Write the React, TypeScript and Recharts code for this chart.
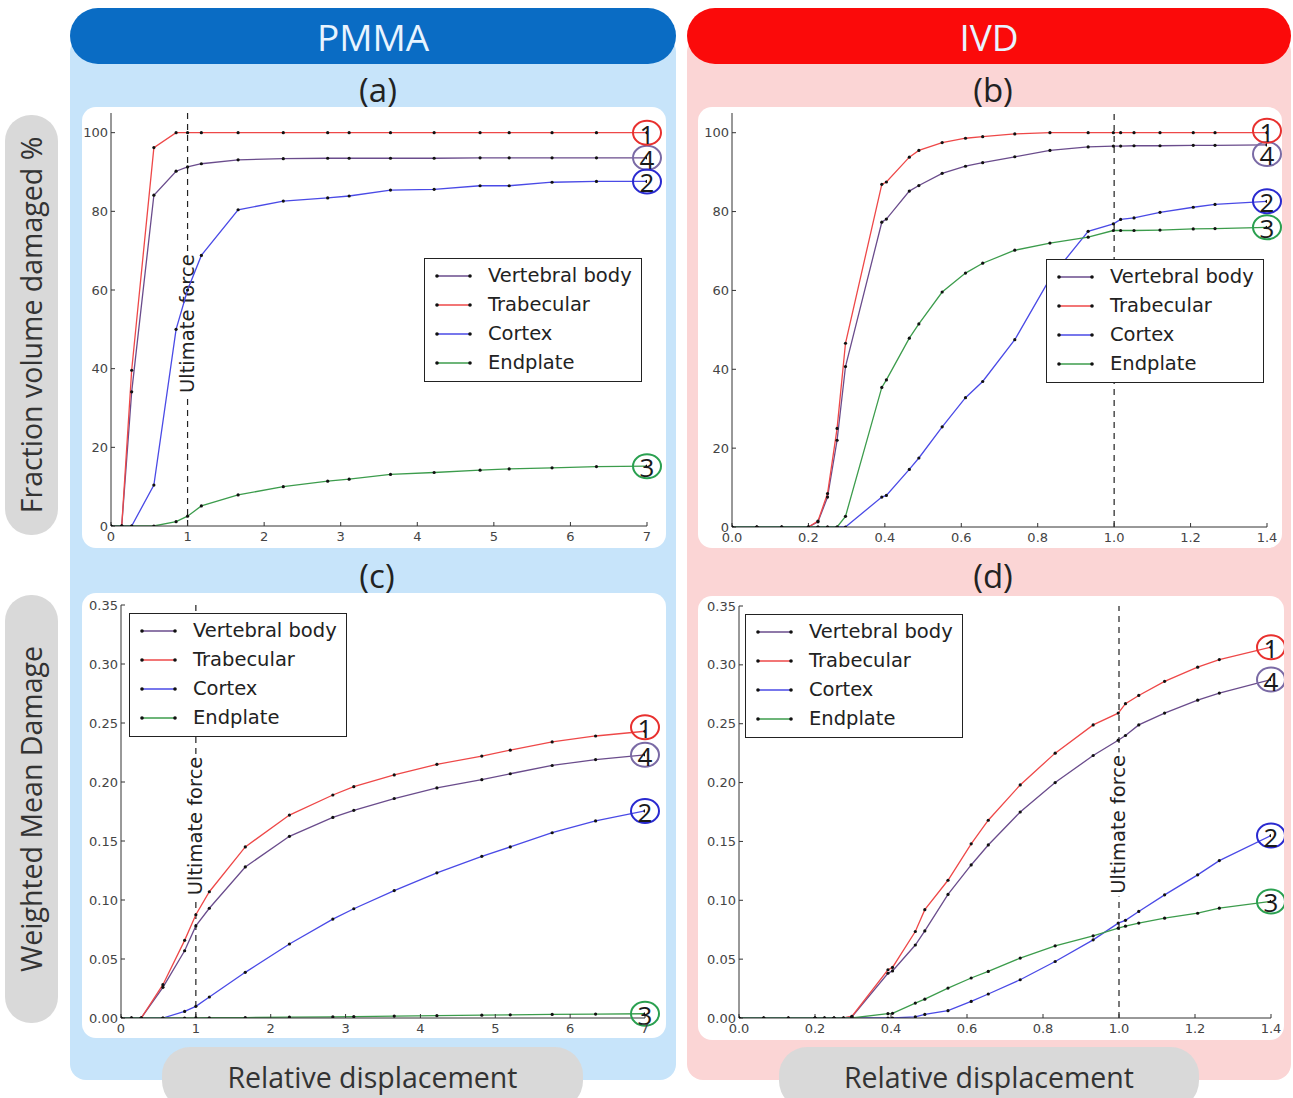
import React from 'react';
import { LineChart, Line, XAxis, YAxis, ReferenceLine, ReferenceDot, Legend } from 'recharts';

// relative displacement at each saved step
const pmmaDisp = [0, 0.14, 0.27, 0.56, 0.85, 1.0, 1.18, 1.66, 2.25, 2.83, 3.11, 3.65, 4.22, 4.82, 5.2, 5.76, 6.34, 7.0];
const ivdDisp = [0, 0.065, 0.13, 0.2, 0.225, 0.25, 0.275, 0.297, 0.392, 0.404, 0.464, 0.489, 0.55, 0.611, 0.656, 0.74, 0.832, 0.932, 0.998, 1.017, 1.052, 1.12, 1.207, 1.264, 1.4];

// (a) PMMA - fraction volume damaged %
const pmmaVolBody = [0, 0, 34.1, 84.1, 90.2, 91.3, 92.1, 93.1, 93.4, 93.5, 93.5, 93.5, 93.5, 93.6, 93.6, 93.6, 93.6, 93.6];
const pmmaVolTrab = [0, 0, 39.6, 96.2, 100, 100, 100, 100, 100, 100, 100, 100, 100, 100, 100, 100, 100, 100];
const pmmaVolCortex = [0, 0, 0, 10.4, 50, 60, 68.8, 80.4, 82.6, 83.4, 83.9, 85.4, 85.6, 86.5, 86.5, 87.4, 87.6, 87.6];
const pmmaVolEndplate = [0, 0, 0, 0, 1.1, 2.5, 5.1, 7.9, 10, 11.4, 11.9, 13.1, 13.6, 14.2, 14.5, 14.8, 15.1, 15.2];

// (b) IVD - fraction volume damaged %
const ivdVolBody = [0, 0, 0, 0, 1.3, 7.6, 22, 40.7, 77.3, 78.1, 85.2, 86.6, 89.7, 91.5, 92.4, 93.9, 95.5, 96.4, 96.6, 96.6, 96.7, 96.7, 96.8, 96.8, 96.9];
const ivdVolTrab = [0, 0, 0, 0, 1.5, 8.5, 25, 46.6, 86.9, 87.5, 93.8, 95.5, 97.5, 98.6, 99, 99.7, 100, 100, 100, 100, 100, 100, 100, 100, 100];
const ivdVolCortex = [0, 0, 0, 0, 0, 0, 0, 0, 7.6, 8, 14.6, 17.5, 25.4, 32.8, 36.9, 47.5, 63, 75, 76.9, 78, 78.4, 79.8, 81.1, 81.8, 82.6];
const ivdVolEndplate = [0, 0, 0, 0, 0, 0, 0, 2.7, 35.4, 37.3, 47.9, 51.5, 59.6, 64.4, 66.9, 70.2, 72, 73.5, 75.2, 75.2, 75.2, 75.3, 75.6, 75.7, 76];

// (c) PMMA - weighted mean damage
const pmmaWmdBody = [0, 0, 0, 0.026, 0.057, 0.078, 0.093, 0.128, 0.154, 0.17, 0.176, 0.186, 0.195, 0.202, 0.207, 0.214, 0.219, 0.223];
const pmmaWmdTrab = [0, 0, 0, 0.0282, 0.0658, 0.0875, 0.107, 0.145, 0.172, 0.189, 0.196, 0.206, 0.215, 0.222, 0.227, 0.234, 0.239, 0.243];
const pmmaWmdCortex = [0, 0, 0, 0, 0.0056, 0.0099, 0.0178, 0.0387, 0.0627, 0.0838, 0.0926, 0.108, 0.123, 0.137, 0.145, 0.157, 0.167, 0.1755];
const pmmaWmdEndplate = [0, 0, 0, 0, 0, 0.0001, 0.0002, 0.0004, 0.0007, 0.001, 0.0012, 0.0016, 0.002, 0.0024, 0.0027, 0.003, 0.0033, 0.0036];

// (d) IVD - weighted mean damage
const ivdWmdBody = [0, 0, 0, 0, 0, 0, 0, 0.001, 0.038, 0.04, 0.062, 0.074, 0.105, 0.13, 0.147, 0.175, 0.2, 0.223, 0.236, 0.24, 0.249, 0.259, 0.27, 0.276, 0.2875];
const ivdWmdTrab = [0, 0, 0, 0, 0, 0, 0, 0.0014, 0.041, 0.043, 0.0735, 0.092, 0.117, 0.148, 0.168, 0.198, 0.225, 0.249, 0.259, 0.267, 0.274, 0.286, 0.298, 0.3045, 0.315];
const ivdWmdCortex = [0, 0, 0, 0, 0, 0, 0, 0, 0, 0, 0.001, 0.003, 0.0062, 0.0141, 0.0204, 0.0325, 0.048, 0.0664, 0.0806, 0.083, 0.0905, 0.1046, 0.1216, 0.1337, 0.155];
const ivdWmdEndplate = [0, 0, 0, 0, 0, 0, 0, 0, 0.0037, 0.004, 0.0127, 0.016, 0.0254, 0.034, 0.0396, 0.0509, 0.0613, 0.0698, 0.0763, 0.078, 0.0806, 0.0848, 0.089, 0.0933, 0.099];

const pmmaXTicks = [0, 1, 2, 3, 4, 5, 6, 7];
const ivdXTicks = [0, 0.2, 0.4, 0.6, 0.8, 1.0, 1.2, 1.4];
const volYTicks = [0, 20, 40, 60, 80, 100];
const wmdYTicks = [0, 0.05, 0.1, 0.15, 0.2, 0.25, 0.3, 0.35];

const seriesKeys = ['body', 'trab', 'cortex', 'endplate'];
const seriesNames = ['Vertebral body', 'Trabecular', 'Cortex', 'Endplate'];
const seriesColors = ['#6a4c8c', '#ee4848', '#4a4ae6', '#3c9c4c'];
const badgeNumbers = ['4', '1', '2', '3'];
const badgeColors = ['#7a6aa5', '#e8302e', '#2a2ad0', '#2aa050'];

const MPL = 'DejaVu Sans, sans-serif';
const SANS = '"Open Sans", sans-serif';

function toRows(disp: number[], cols: number[][]) {
  return disp.map((x, i) => ({
    x,
    body: cols[0][i],
    trab: cols[1][i],
    cortex: cols[2][i],
    endplate: cols[3][i],
  }));
}

const fmtInt = (v: number) => String(v);
const fmt1 = (v: number) => v.toFixed(1);
const fmt2 = (v: number) => v.toFixed(2);

// matplotlib-style legend box, kept in series order
function LegendBox() {
  return (
    <div
      style={{
        width: 218,
        height: 124,
        boxSizing: 'border-box',
        border: '1.5px solid #222',
        background: '#fff',
        paddingTop: 2,
      }}
    >
      {seriesNames.map((name, i) => (
        <div key={name} style={{ height: 29, display: 'flex', alignItems: 'center' }}>
          <svg width={63} height={10} style={{ flex: 'none' }}>
            <line x1={12} y1={5} x2={45} y2={5} stroke={seriesColors[i]} strokeWidth={1.5} />
            <circle cx={12} cy={5} r={1.8} fill="#111" />
            <circle cx={45} cy={5} r={1.8} fill="#111" />
          </svg>
          <span style={{ fontFamily: MPL, fontSize: 19.5, color: '#222', lineHeight: '29px', whiteSpace: 'nowrap' }}>
            {name}
          </span>
        </div>
      ))}
    </div>
  );
}

interface PanelProps {
  rows: any[];
  xDomain: [number, number];
  xTicks: number[];
  yDomain: [number, number];
  yTicks: number[];
  xFmt: (v: number) => string;
  yFmt: (v: number) => string;
  box: { left: number; top: number; width: number; height: number };
  marginTop: number;
  marginRight: number;
  yAxisWidth: number;
  xAxisHeight: number;
  legendPos: { left: number; top: number };
  ultimateAt?: number | null;
  badgeShift?: number[];
}

function Panel(p: PanelProps) {
  const last = p.rows[p.rows.length - 1];
  const axisTick = { fill: '#444', fontSize: 13, fontFamily: MPL };
  return (
    <div
      style={{
        position: 'absolute',
        left: p.box.left,
        top: p.box.top,
        width: p.box.width,
        height: p.box.height,
        background: '#fff',
        borderRadius: 14,
      }}
    >
      <LineChart
        width={p.box.width}
        height={p.box.height}
        data={p.rows}
        margin={{ top: p.marginTop, right: p.marginRight, bottom: 0, left: 0 }}
      >
        <XAxis
          dataKey="x"
          type="number"
          domain={p.xDomain}
          ticks={p.xTicks}
          tickFormatter={p.xFmt}
          interval={0}
          allowDataOverflow
          height={p.xAxisHeight}
          stroke="#333"
          tick={axisTick}
          tickSize={-4}
          tickMargin={10}
        />
        <XAxis
          xAxisId="top"
          orientation="top"
          type="number"
          domain={p.xDomain}
          ticks={p.xTicks}
          interval={0}
          height={0}
          stroke="#333"
          tick={false}
          tickSize={-4}
        />
        <YAxis
          type="number"
          domain={p.yDomain}
          ticks={p.yTicks}
          tickFormatter={p.yFmt}
          interval={0}
          allowDataOverflow
          width={p.yAxisWidth}
          stroke="#333"
          tick={axisTick}
          tickSize={-4}
          tickMargin={7}
        />
        <YAxis
          yAxisId="right"
          orientation="right"
          type="number"
          domain={p.yDomain}
          ticks={p.yTicks}
          interval={0}
          width={0}
          stroke="#333"
          tick={false}
          tickSize={-4}
        />
        <ReferenceLine
          x={1}
          stroke="#222"
          strokeWidth={1.2}
          strokeDasharray="6 5"
          label={
            p.ultimateAt != null
              ? (lp: any) => {
                  const vb = lp.viewBox || {};
                  const cx = vb.x;
                  const cy = vb.y + vb.height * (p.ultimateAt as number);
                  return (
                    <g>
                      <rect x={cx - 12} y={cy - 72} width={24} height={144} fill="#fff" />
                      <text
                        x={cx}
                        y={cy}
                        transform={`rotate(-90 ${cx} ${cy})`}
                        textAnchor="middle"
                        dominantBaseline="central"
                        fontFamily={MPL}
                        fontSize={19.5}
                        fill="#222"
                      >
                        Ultimate force
                      </text>
                    </g>
                  );
                }
              : undefined
          }
        />
        {seriesKeys.map((k, i) => (
          <Line
            key={k}
            dataKey={k}
            name={seriesNames[i]}
            type="linear"
            stroke={seriesColors[i]}
            strokeWidth={1.3}
            dot={{ r: 1.6, fill: '#111', stroke: '#111', strokeWidth: 0 }}
            activeDot={false}
            isAnimationActive={false}
          />
        ))}
        {seriesKeys.map((k, i) => {
          const shift = p.badgeShift ? p.badgeShift[i] : 0;
          return (
            <ReferenceDot
              key={'b' + k}
              x={last.x}
              y={last[k]}
              r={12}
              ifOverflow="visible"
              shape={(sp: any) => (
                <g>
                  <ellipse
                    cx={sp.cx}
                    cy={sp.cy + shift}
                    rx={14}
                    ry={12}
                    fill="none"
                    stroke={badgeColors[i]}
                    strokeWidth={2}
                  />
                  <text
                    x={sp.cx}
                    y={sp.cy + shift + 1}
                    textAnchor="middle"
                    dominantBaseline="central"
                    fontFamily={SANS}
                    fontSize={26}
                    fill="#1a1a1a"
                  >
                    {badgeNumbers[i]}
                  </text>
                </g>
              )}
            />
          );
        })}
        <Legend
          layout="vertical"
          align="center"
          verticalAlign="middle"
          wrapperStyle={{ left: p.legendPos.left, top: p.legendPos.top, width: 218, height: 124 }}
          content={() => <LegendBox />}
        />
      </LineChart>
    </div>
  );
}

function SideLabel({ top, height, text }: { top: number; height: number; text: string }) {
  return (
    <div
      style={{
        position: 'absolute',
        left: 5,
        top,
        width: 53,
        height,
        borderRadius: 26,
        background: '#d9d9d9',
        display: 'flex',
        alignItems: 'center',
        justifyContent: 'center',
      }}
    >
      <div
        style={{
          transform: 'rotate(-90deg)',
          whiteSpace: 'nowrap',
          fontFamily: SANS,
          fontSize: 28.5,
          color: '#333',
        }}
      >
        {text}
      </div>
    </div>
  );
}

function BottomLabel({ left, width }: { left: number; width: number }) {
  return (
    <div
      style={{
        position: 'absolute',
        left,
        top: 1047,
        width,
        height: 62,
        borderRadius: 28,
        background: '#d9d9d9',
        textAlign: 'center',
        lineHeight: '60px',
        fontFamily: SANS,
        fontSize: 28.5,
        color: '#333',
      }}
    >
      Relative displacement
    </div>
  );
}

function Caption({ x, y, text }: { x: number; y: number; text: string }) {
  return (
    <div
      style={{
        position: 'absolute',
        left: x - 40,
        top: y - 20,
        width: 80,
        height: 40,
        lineHeight: '40px',
        textAlign: 'center',
        fontFamily: SANS,
        fontSize: 33,
        color: '#222',
      }}
    >
      {text}
    </div>
  );
}

function Column({ left, width, head, light, title }: { left: number; width: number; head: string; light: string; title: string }) {
  return (
    <>
      <div style={{ position: 'absolute', left, top: 36, width, height: 1044, background: light, borderRadius: 16 }} />
      <div
        style={{
          position: 'absolute',
          left,
          top: 8,
          width,
          height: 56,
          borderRadius: 28,
          background: head,
          color: '#e8f4ff',
          textAlign: 'center',
          lineHeight: '58px',
          fontFamily: SANS,
          fontSize: 37,
        }}
      >
        {title}
      </div>
    </>
  );
}

export default function App() {
  const pmmaVol = toRows(pmmaDisp, [pmmaVolBody, pmmaVolTrab, pmmaVolCortex, pmmaVolEndplate]);
  const ivdVol = toRows(ivdDisp, [ivdVolBody, ivdVolTrab, ivdVolCortex, ivdVolEndplate]);
  const pmmaWmd = toRows(pmmaDisp, [pmmaWmdBody, pmmaWmdTrab, pmmaWmdCortex, pmmaWmdEndplate]);
  const ivdWmd = toRows(ivdDisp, [ivdWmdBody, ivdWmdTrab, ivdWmdCortex, ivdWmdEndplate]);

  return (
    <div
      style={{
        position: 'absolute',
        left: 0,
        top: 0,
        width: 1293,
        height: 1098,
        overflow: 'hidden',
        background: '#fff',
      }}
    >
      <Column left={70} width={606} head="#0a6cc4" light="#c7e4fa" title="PMMA" />
      <Column left={687} width={604} head="#fb0a0a" light="#fbd5d5" title="IVD" />

      <SideLabel top={115} height={420} text="Fraction volume damaged %" />
      <SideLabel top={595} height={428} text="Weighted Mean Damage" />

      <Caption x={378} y={90} text="(a)" />
      <Caption x={993} y={90} text="(b)" />
      <Caption x={377} y={576} text="(c)" />
      <Caption x={993} y={576} text="(d)" />

      <Panel
        rows={pmmaVol}
        xDomain={[0, 7]}
        xTicks={pmmaXTicks}
        yDomain={[0, 105]}
        yTicks={volYTicks}
        xFmt={fmtInt}
        yFmt={fmtInt}
        box={{ left: 82, top: 107, width: 584, height: 441 }}
        marginTop={6}
        marginRight={19}
        yAxisWidth={29}
        xAxisHeight={22}
        legendPos={{ left: 342, top: 151 }}
        ultimateAt={0.51}
      />
      <Panel
        rows={ivdVol}
        xDomain={[0, 1.4]}
        xTicks={ivdXTicks}
        yDomain={[0, 105]}
        yTicks={volYTicks}
        xFmt={fmt1}
        yFmt={fmtInt}
        box={{ left: 698, top: 107, width: 584, height: 441 }}
        marginTop={6}
        marginRight={15}
        yAxisWidth={34}
        xAxisHeight={21}
        legendPos={{ left: 348, top: 152 }}
        ultimateAt={null}
        badgeShift={[9, -2, 0, 0]}
      />
      <Panel
        rows={pmmaWmd}
        xDomain={[0, 7]}
        xTicks={pmmaXTicks}
        yDomain={[0, 0.35]}
        yTicks={wmdYTicks}
        xFmt={fmtInt}
        yFmt={fmt2}
        box={{ left: 82, top: 593, width: 584, height: 445 }}
        marginTop={12}
        marginRight={21}
        yAxisWidth={39}
        xAxisHeight={20}
        legendPos={{ left: 47, top: 20 }}
        ultimateAt={0.535}
        badgeShift={[0, -4, 0, 0]}
      />
      <Panel
        rows={ivdWmd}
        xDomain={[0, 1.4]}
        xTicks={ivdXTicks}
        yDomain={[0, 0.35]}
        yTicks={wmdYTicks}
        xFmt={fmt1}
        yFmt={fmt2}
        box={{ left: 698, top: 596, width: 586, height: 444 }}
        marginTop={10}
        marginRight={13}
        yAxisWidth={41}
        xAxisHeight={22}
        legendPos={{ left: 47, top: 18 }}
        ultimateAt={0.53}
      />

      <BottomLabel left={162} width={421} />
      <BottomLabel left={779} width={420} />
    </div>
  );
}
